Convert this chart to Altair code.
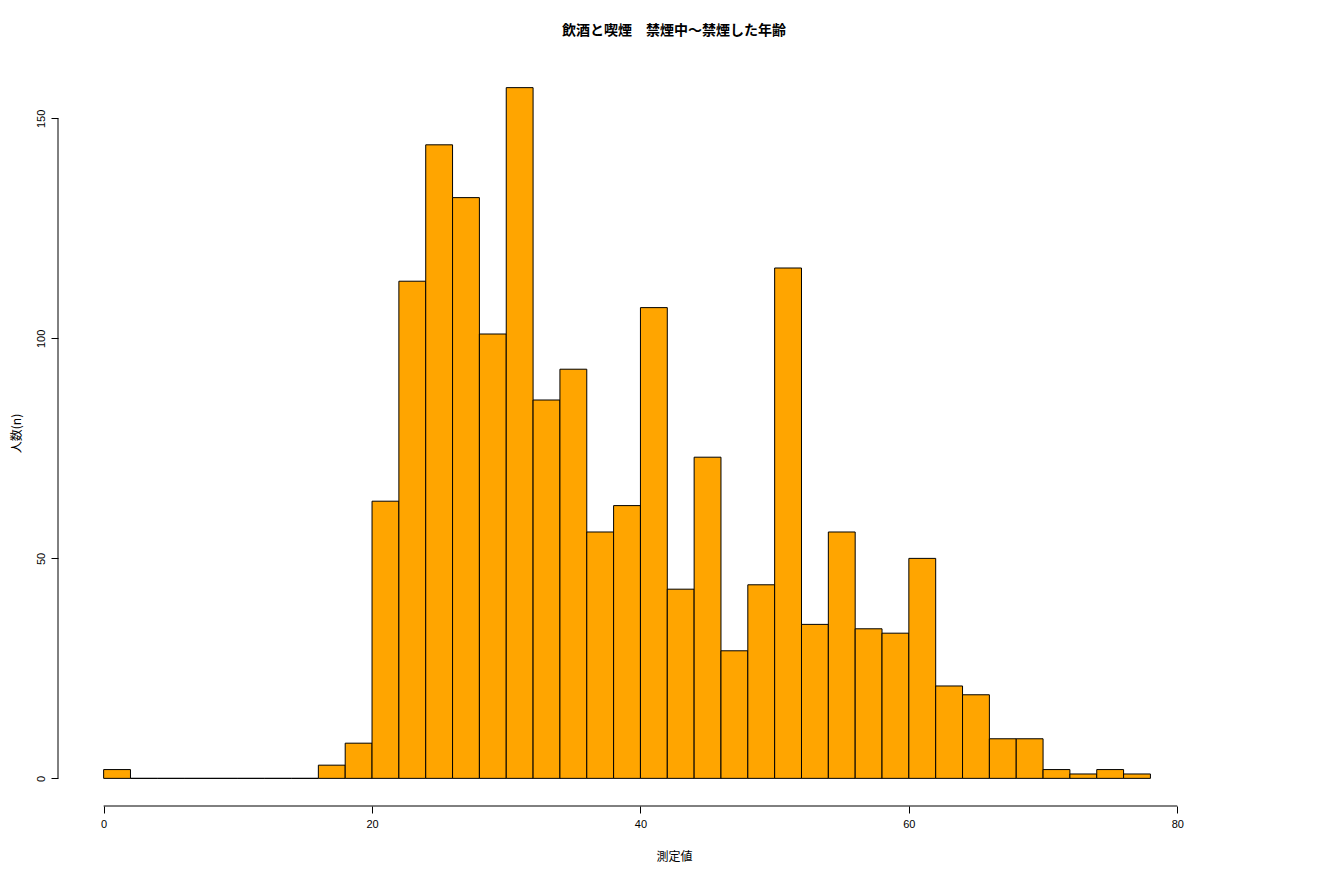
import altair as alt
import pandas as pd

# Histogram bins (width 2) and counts
bin_start = list(range(0, 78, 2))
bin_end = [b + 2 for b in bin_start]
counts = [2, 0, 0, 0, 0, 0, 0, 0, 3, 8,
          63, 113, 144, 132, 101, 157, 86, 93, 56, 62,
          107, 43, 73, 29, 44, 116, 35, 56, 34, 33,
          50, 21, 19, 9, 9, 2, 1, 2, 1]

x_ticks = [0, 20, 40, 60, 80]
y_ticks = [0, 50, 100, 150]
x_domain = [-3.4, 88.4]
y_domain = [-6.28, 163.28]

title_text = "飲酒と喫煙　禁煙中～禁煙した年齢"
x_title = "測定値"
y_title = "人数(n)"

df = pd.DataFrame({"start": bin_start, "end": bin_end, "count": counts, "zero": [0] * len(counts)})

LAT = "Liberation Sans, Noto Sans CJK JP"
CJK = "Noto Sans CJK JP"

xscale = alt.Scale(domain=x_domain, nice=False, zero=False)
yscale = alt.Scale(domain=y_domain, nice=False, zero=False)

bars = alt.Chart(df).mark_rect(fill="#FFA500", stroke="black", strokeWidth=1).encode(
    x=alt.X("start:Q", scale=xscale,
            axis=alt.Axis(values=x_ticks, domain=False, grid=False, tickSize=7,
                          tickColor="black", tickWidth=1, labelColor="black",
                          labelFont=LAT, labelFontSize=11, labelPadding=5, format="d",
                          title=x_title, titleFont=CJK, titleFontSize=12,
                          titleFontWeight="normal", titleColor="black", titlePadding=22)),
    x2="end:Q",
    y=alt.Y("count:Q", scale=yscale,
            axis=alt.Axis(values=y_ticks, domain=False, grid=False, tickSize=7,
                          tickColor="black", tickWidth=1, labelColor="black",
                          labelFont=LAT, labelFontSize=11, labelPadding=5,
                          labelAngle=270, labelAlign="center", labelBaseline="bottom",
                          format="d",
                          title=y_title, titleFont=CJK, titleFontSize=12,
                          titleFontWeight="normal", titleColor="black", titleAngle=270,
                          titleX=-42, titleY=373, titleAlign="center", titleBaseline="middle")),
    y2="zero:Q",
)

# axis lines (R style: span only first to last tick)
xline_df = pd.DataFrame({"a": [x_ticks[0]], "b": [x_ticks[-1]], "pos": [y_domain[0]]})
yline_df = pd.DataFrame({"a": [y_ticks[0]], "b": [y_ticks[-1]], "pos": [x_domain[0]]})

xline = alt.Chart(xline_df).mark_rule(color="black", strokeWidth=1).encode(
    x=alt.X("a:Q", scale=xscale), x2="b:Q", y=alt.Y("pos:Q", scale=yscale))
yline = alt.Chart(yline_df).mark_rule(color="black", strokeWidth=1).encode(
    y=alt.Y("a:Q", scale=yscale), y2="b:Q", x=alt.X("pos:Q", scale=xscale))

chart = alt.layer(bars, xline, yline).properties(
    width=1232, height=746,
    autosize="none",
    padding={"left": 50, "top": 52, "right": 20, "bottom": 66},
    title=alt.TitleParams(title_text, font=CJK, fontSize=14, fontWeight="bold",
                          color="black", anchor="middle", offset=22),
).configure(background="white").configure_view(stroke=None, strokeWidth=0)

chart.save("out.html", embed_options={"renderer": "svg", "actions": False})
